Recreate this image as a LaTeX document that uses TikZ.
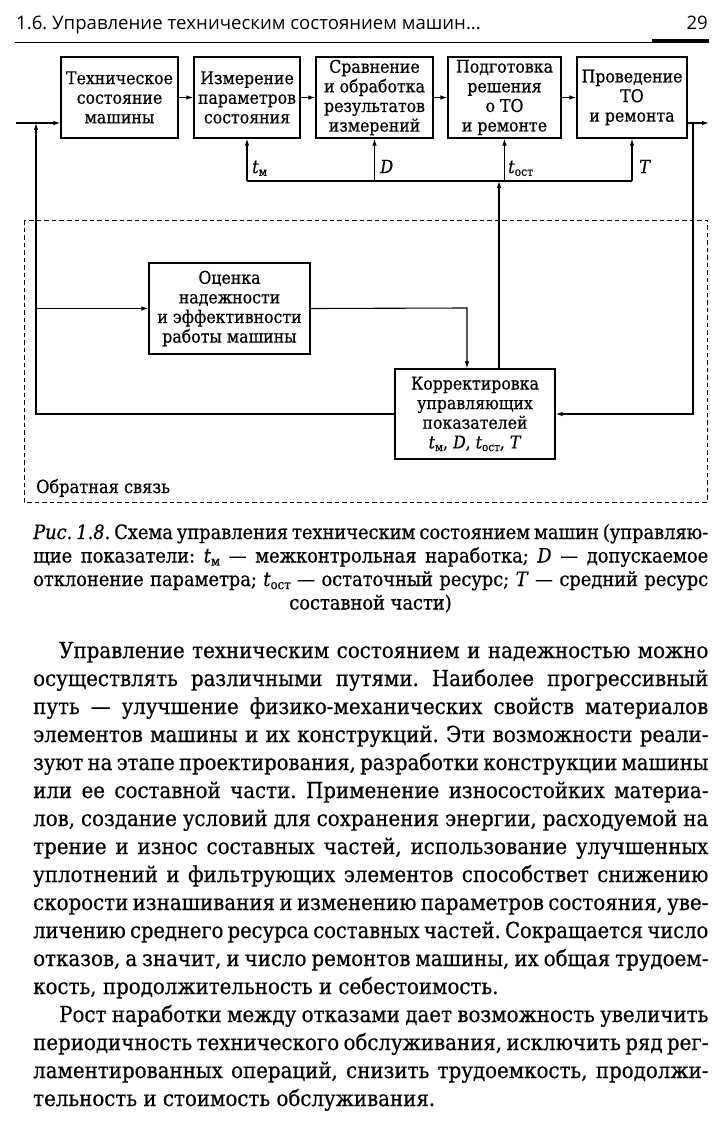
\documentclass[tikz,border=0pt]{standalone}
\usepackage{fontspec}
\setmainfont{DejaVu Serif Condensed}[FakeBold=0.6]
\newfontfamily\hdrfont{Open Sans}
\usetikzlibrary{arrows.meta}
\frenchspacing
\newlength\linew
\setlength\linew{675pt}
\newdimen\natw
\newcommand\jl[1]{\setbox0\hbox{\spaceskip=0.2em\relax #1}\natw=\wd0
  \ifdim\natw>\linew
    \pgfmathsetmacro\sx{\linew/\natw}\scalebox{\sx}[1]{\box0}%
  \else
    \hbox to\linew{\spaceskip=0.28em plus 1em minus 0.08em\relax #1}%
  \fi}
\newcommand\il[1]{\jl{\hskip26pt #1}}
\newcommand\rl[1]{\hbox to\linew{#1\hfil}}
\newcommand\sbs[1]{\raisebox{-0.3ex}{\scalebox{0.66}{#1}}}
\newcommand\tm{\textit{t}\sbs{м}}
\newcommand\tost{\textit{t}\sbs{ост}}
\tikzset{
  blk/.style={draw, line width=1.3pt, inner sep=0pt, align=center,
    font=\fontsize{17.5}{19.6}\selectfont},
  arr/.style={-{Latex[length=7pt,width=4.5pt]}, line width=1.1pt},
  ln/.style={line width=1.1pt},
  lbl/.style={anchor=base west, inner sep=0pt, font=\fontsize{18}{19.7}\selectfont},
  body/.style={anchor=base west, inner sep=0pt, font=\fontsize{22}{28}\selectfont},
  capt/.style={anchor=base west, inner sep=0pt, font=\fontsize{19.8}{23.5}\selectfont}
}
\begin{document}
\begin{tikzpicture}[x=1pt,y=-1pt]
\useasboundingbox (0,0) rectangle (727,1121);
% header
\node[anchor=base west, inner sep=0pt, font=\hdrfont\fontsize{18.6}{20}\selectfont] (hdr) at (16,30) {1.6. Управление техническим состоянием машин...};
\node[anchor=base east, inner sep=0pt, font=\hdrfont\fontsize{18.6}{20}\selectfont] (pg) at (708,30) {29};
\draw[line width=0.8pt] (15,42.3) -- (709,42.3);
\fill (652,39.5) rectangle (709,43);
% top row
\node[blk, minimum width=117pt, minimum height=81pt] (b1) at (119.5,97.5) {Техническое\\состояние\\машины};
\node[blk, minimum width=106pt, minimum height=81pt] (b2) at (247,97.5) {Измерение\\параметров\\состояния};
\node[blk, minimum width=117pt, minimum height=81pt] (b3) at (374.5,97.5) {Сравнение\\и обработка\\результатов\\измерений};
\node[blk, minimum width=113pt, minimum height=81pt] (b4) at (504.5,97.5) {Подготовка\\решения\\о ТО\\и ремонте};
\node[blk, minimum width=110pt, minimum height=81pt] (b5) at (632,97.5) {Проведение\\ТО\\и ремонта};
\node[blk, minimum width=161pt, minimum height=91pt] (ocen) at (229.5,308.5) {Оценка\\надежности\\и эффективности\\работы машины};
\node[blk, minimum width=160pt, minimum height=90pt] (korr) at (475,414) {Корректировка\\управляющих\\показателей\\\tm, \textit{D}, \tost, \textit{T}};
% coordinates
\coordinate (in) at (16,123);
\coordinate (out) at (709,123);
\coordinate (lj) at (36,123);
\coordinate (rj) at (693,123);
\coordinate (busL) at (247,181);
\coordinate (ku) at (499,181);
\coordinate (oc) at (467,308);
% main chain
\draw[arr] (in) -- (in -| b1.west);
\draw[arr] (b1.east) -- (b2.west);
\draw[arr] (b2.east) -- (b3.west);
\draw[arr] (b3.east) -- (b4.west);
\draw[arr] (b4.east) -- (b5.west);
\draw[arr] (b5.east |- out) -- (out);
% bus
\draw[ln] (b2.south |- busL) -- (b5.south |- busL);
\draw[arr] (b2.south |- busL) -- (b2.south);
\draw[arr] (b3.south |- busL) -- (b3.south);
\draw[arr] (b4.south |- busL) -- (b4.south);
\draw[arr] (b5.south |- busL) -- (b5.south);
\draw[arr] (korr.north -| ku) -- (ku);
% feedback
\draw[arr] (rj) -- (rj |- korr.east) -- (korr.east);
\draw[arr] (korr.west) -- (korr.west -| lj) -- (lj);
\draw[arr] (ocen.west -| lj) -- (ocen.west);
\draw[arr] (ocen.east) -- (oc) -- (oc |- korr.north);
% labels
\node[lbl] (ltm) at (252,173) {\tm};
\node[lbl] (lD) at (380,173) {\textit{D}};
\node[lbl] (lto) at (508,173) {\tost};
\node[lbl] (lT) at (639,173) {\textit{T}};
% dashed frame
\draw[line width=1pt, dash pattern=on 4.5pt off 3pt] (24,220) rectangle (707,502);
\node[lbl] (fb) at (36,493) {Обратная связь};
% caption
\node[capt] (c1) at (33,539) {\jl{\textit{Рис. 1.8.} Схема управления техническим состоянием машин (управляю-}};
\node[capt] (c2) at (33,562.5) {\jl{щие показатели: \tm{} — межконтрольная наработка; \textit{D} — допускаемое}};
\node[capt] (c3) at (33,586) {\jl{отклонение параметра; \tost{} — остаточный ресурс; \textit{T} — средний ресурс}};
\node[anchor=base, inner sep=0pt, font=\fontsize{19.8}{23.5}\selectfont] (c4) at (370.5,609.5) {составной части)};
% body
\node[body] (p1) at (33,658) {\il{Управление техническим состоянием и надежностью можно}};
\node[body] (p2) at (33,686) {\jl{осуществлять различными путями. Наиболее прогрессивный}};
\node[body] (p3) at (33,714) {\jl{путь — улучшение физико-механических свойств материалов}};
\node[body] (p4) at (33,742) {\jl{элементов машины и их конструкций. Эти возможности реали-}};
\node[body] (p5) at (33,770) {\jl{зуют на этапе проектирования, разработки конструкции машины}};
\node[body] (p6) at (33,798) {\jl{или ее составной части. Применение износостойких материа-}};
\node[body] (p7) at (33,826) {\jl{лов, создание условий для сохранения энергии, расходуемой на}};
\node[body] (p8) at (33,854) {\jl{трение и износ составных частей, использование улучшенных}};
\node[body] (p9) at (33,882) {\jl{уплотнений и фильтрующих элементов способствет снижению}};
\node[body] (p10) at (33,910) {\jl{скорости изнашивания и изменению параметров состояния, уве-}};
\node[body] (p11) at (33,938) {\jl{личению среднего ресурса составных частей. Сокращается число}};
\node[body] (p12) at (33,966) {\jl{отказов, а значит, и число ремонтов машины, их общая трудоем-}};
\node[body] (p13) at (33,994) {\rl{кость, продолжительность и себестоимость.}};
\node[body] (p14) at (33,1022) {\il{Рост наработки между отказами дает возможность увеличить}};
\node[body] (p15) at (33,1050) {\jl{периодичность технического обслуживания, исключить ряд рег-}};
\node[body] (p16) at (33,1078) {\jl{ламентированных операций, снизить трудоемкость, продолжи-}};
\node[body] (p17) at (33,1106) {\rl{тельность и стоимость обслуживания.}};
\end{tikzpicture}
\end{document}
